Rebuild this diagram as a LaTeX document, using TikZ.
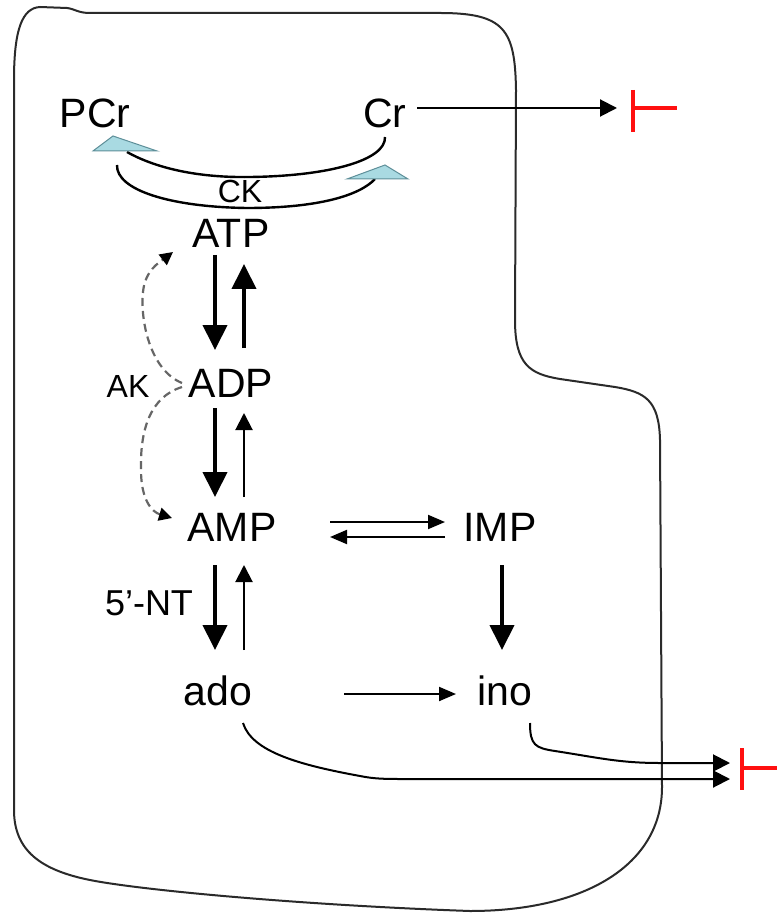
\documentclass[tikz,border=0pt]{standalone}
\usepackage{fontspec}
\setmainfont{Liberation Sans}
\usetikzlibrary{arrows.meta,calc}
\definecolor{trifill}{HTML}{A9DAE2}
\definecolor{tridraw}{HTML}{5E8F99}
\definecolor{celline}{HTML}{2A2A2A}
\definecolor{teered}{HTML}{FF1010}
\begin{document}
\begin{tikzpicture}[x=0.5pt,y=-0.5pt,
  met/.style={inner sep=0pt,anchor=base,font=\fontsize{20.5}{24}\selectfont},
  enz/.style={inner sep=0pt,anchor=base,font=\fontsize{16}{19}\selectfont},
  ntlab/.style={inner sep=0pt,anchor=base,font=\fontsize{18}{21}\selectfont},
  bigarr/.style={line width=2pt,-{Triangle[length=12.5pt,width=12pt]}},
  thinarr/.style={line width=1pt,-{Triangle[length=8.5pt,width=8.5pt]}},
  horarr/.style={line width=1pt,-{Triangle[length=8.5pt,width=7pt]}},
  dasharr/.style={line width=1.1pt,gray!80!black,dash pattern=on 4pt off 2.5pt,
     -{Triangle[length=6.5pt,width=6.5pt,color=black]}},
  ckarc/.style={line width=1.2pt,black},
  tri/.style={fill=trifill,draw=tridraw,line width=0.5pt},
  cell/.style={line width=1pt,celline},
  tee/.style={line width=2pt,teered}
]
\useasboundingbox (0,0) rectangle (777,914);
\fill[white] (0,0) rectangle (777,914);

% cell outline
\draw[cell] (14,80) .. controls (14,30) and (22,8) .. (40,7) -- (67,8)
  .. controls (75,9) and (78,13) .. (90,13) -- (440,13)
  .. controls (505,13) and (515,30) .. (516,90) -- (515,320)
  .. controls (515,365) and (530,374) .. (560,379) -- (615,387)
  .. controls (645,392) and (659,400) .. (660,440) -- (662,787)
  .. controls (662,865) and (585,911) .. (470,911)
  .. controls (300,905) and (140,890) .. (90,880)
  .. controls (40,870) and (14,850) .. (14,810) -- cycle;

% nodes
\node[met] (PCr) at (95,128) {PCr};
\node[met] (Cr)  at (385,128) {Cr};
\node[enz] (CK)  at (240,203) {CK};
\node[met] (ATP) at (231,248) {ATP};
\node[met] (ADP) at (231,397) {ADP};
\node[enz] (AK)  at (128,397) {AK};
\node[met] (AMP) at (232,541) {AMP};
\node[met] (IMP) at (500,541) {IMP};
\node[ntlab] (NT) at (149,615) {5’-NT};
\node[met] (ado) at (218,705) {ado};
\node[met] (ino) at (505,705) {ino};
\coordinate (tee1) at (633,108);
\coordinate (tee2) at (742,768);

% CK arcs
\draw[ckarc] ($(Cr.base)+(0,9)$) .. controls (386,160) and (330,176) .. (250,177)
  .. controls (190,178) and (150,165) .. (127,152);
\draw[ckarc] ($(PCr.base)+(22,37)$) .. controls (116,190) and (170,207) .. (247,208)
  .. controls (320,208) and (360,195) .. (375,179);
\draw[tri] (93,151) -- (113,136) -- (157,151) -- cycle;
\draw[tri] (347,179) -- (385,165) -- (408,179) -- cycle;

% vertical arrows
\draw[bigarr] ($(ATP.base)+(-16,7)$) -- ($(ADP.base)+(-16,-47)$);
\draw[bigarr] ($(ADP.base)+(13,-49)$) -- ($(ATP.base)+(13,16)$);
\draw[bigarr] ($(ADP.base)+(-16,11)$) -- ($(AMP.base)+(-17,-44)$);
\draw[thinarr] ($(AMP.base)+(12,-44)$) -- ($(ADP.base)+(13,16)$);
\draw[bigarr] ($(AMP.base)+(-17,24)$) -- ($(ado.base)+(-3,-55)$);
\draw[thinarr] ($(ado.base)+(26,-55)$) -- ($(AMP.base)+(12,24)$);
\draw[bigarr] ($(IMP.base)+(2,24)$) -- ($(ino.base)+(-3,-55)$);

% horizontal arrows
\draw[horarr] ($(AMP.base)+(98,-19)$) -- ($(IMP.base)+(-55,-19)$);
\draw[horarr] ($(IMP.base)+(-55,-4)$) -- ($(AMP.base)+(98,-4)$);
\draw[horarr] ($(ado.base)+(126,-11)$) -- ($(ino.base)+(-49,-11)$);
\draw[thinarr] ($(Cr.base)+(32,-20)$) -- ($(tee1)+(-16,0)$);

% AK dashed arcs
\draw[dasharr] ($(ADP.base)+(-49,-14)$) .. controls (150,370) and (140,320) .. (143,292)
  .. controls (145,270) and (160,262) .. ($(ATP.base)+(-58,4)$);
\draw[dasharr] ($(ADP.base)+(-49,-10)$) .. controls (150,397) and (140,430) .. (141,470)
  .. controls (141,500) and (152,512) .. ($(AMP.base)+(-60,-23)$);

% efflux curves
\draw[thinarr] ($(ino.base)+(25,18)$) .. controls (530,745) and (535,748) .. (555,751)
  .. controls (600,758) and (620,763) .. (660,763) -- ($(tee2)+(-12,-5)$);
\draw[thinarr] ($(ado.base)+(25,18)$) .. controls (252,752) and (300,765) .. (360,776)
  .. controls (375,779) and (385,779) .. (405,779) -- ($(tee2)+(-12,11)$);

% red inhibition bars
\draw[tee] ($(tee1)+(0,-18)$) -- ($(tee1)+(0,24)$);
\draw[tee] (tee1) -- ($(tee1)+(44,0)$);
\draw[tee] ($(tee2)+(0,-20)$) -- ($(tee2)+(0,22)$);
\draw[tee] (tee2) -- ($(tee2)+(35,0)$);
\end{tikzpicture}
\end{document}
